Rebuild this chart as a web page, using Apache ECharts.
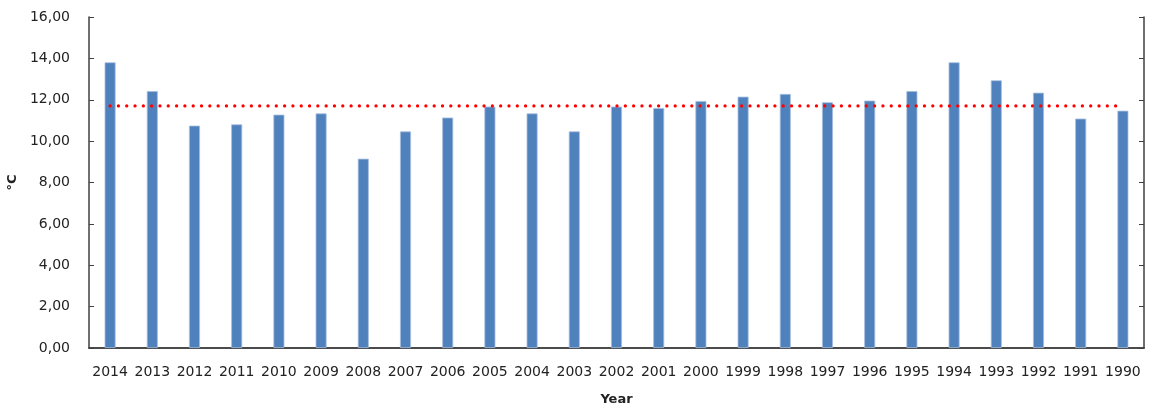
<!DOCTYPE html>
<html>
<head>
<meta charset="utf-8">
<script src="https://cdn.jsdelivr.net/npm/echarts@6/dist/echarts.min.js"></script>
<style>html,body{margin:0;padding:0;background:#fff}#c{width:1160px;height:410px}</style>
</head>
<body>
<div id="c"></div>
<script>
const years = ['2014','2013','2012','2011','2010','2009','2008','2007','2006','2005','2004','2003','2002','2001','2000','1999','1998','1997','1996','1995','1994','1993','1992','1991','1990'];
const temperature = [13.81,12.42,10.75,10.81,11.28,11.34,9.15,10.47,11.14,11.67,11.34,10.47,11.67,11.60,11.94,12.15,12.28,11.88,11.96,12.42,13.81,12.94,12.34,11.09,11.47];
const meanTemperature = [11.70,11.70,11.70,11.70,11.70,11.70,11.70,11.70,11.70,11.70,11.70,11.70,11.70,11.70,11.70,11.70,11.70,11.70,11.70,11.70,11.70,11.70,11.70,11.70,11.70];
const yTicks = [0,2,4,6,8,10,12,14,16];

const font = 'DejaVu Sans';
const axisColor = '#404040';
const chart = echarts.init(document.getElementById('c'), null, {renderer:'canvas'});
const fmt = v => v.toFixed(2).replace('.', ',');
chart.setOption({
  animation:false,
  grid:{left:89,right:16,top:17,bottom:62,containLabel:false,outerBoundsMode:'none'},
  xAxis:[{
    type:'category', data:years, position:'bottom',
    name:'Year', nameLocation:'middle', nameGap:45,
    nameTextStyle:{fontFamily:font,fontWeight:'bold',fontSize:13,color:'#222'},
    axisLine:{lineStyle:{color:axisColor,width:1.5}},
    axisTick:{inside:true,length:5,alignWithLabel:false,lineStyle:{color:axisColor}},
    axisLabel:{interval:0,fontFamily:font,fontSize:14,color:'#222',margin:17}
  },{
    type:'category', data:years, position:'top',
    axisLine:{lineStyle:{color:axisColor,width:1.5}},
    axisTick:{inside:true,length:5,lineStyle:{color:axisColor}},
    axisLabel:{show:false}
  }],
  yAxis:[{
    type:'value', min:yTicks[0], max:yTicks[yTicks.length-1], interval:2, position:'left',
    name:'°C', nameLocation:'middle', nameGap:68, nameRotate:90,
    nameTextStyle:{fontFamily:font,fontWeight:'bold',fontSize:13,color:'#222'},
    axisLine:{show:true,lineStyle:{color:axisColor,width:1.5}},
    axisTick:{show:true,inside:true,length:5,lineStyle:{color:axisColor}},
    splitLine:{show:false},
    axisLabel:{fontFamily:font,fontSize:14,color:'#222',margin:19,formatter:fmt}
  },{
    type:'value', min:yTicks[0], max:yTicks[yTicks.length-1], interval:2, position:'right',
    axisLine:{show:true,lineStyle:{color:axisColor,width:1.5}},
    axisTick:{show:true,inside:true,length:5,lineStyle:{color:axisColor}},
    splitLine:{show:false},
    axisLabel:{show:false}
  }],
  series:[{
    type:'bar', data:temperature, barWidth:11,
    itemStyle:{color:'#4F81BD',borderColor:'#A7BFDE',borderWidth:0.8}
  },{
    type:'line', data:meanTemperature, symbol:'none', z:5,
    lineStyle:{color:'#FF0000',width:3.3,type:[0.01,8.3],cap:'round'}
  }]
});
</script>
</body>
</html>
